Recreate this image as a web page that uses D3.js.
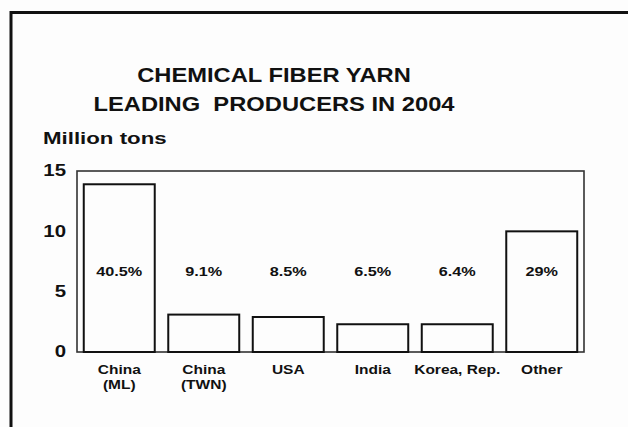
<!DOCTYPE html>
<html><head><meta charset="utf-8">
<script src="https://cdn.jsdelivr.net/npm/d3@7"></script>
<style>html,body{margin:0;padding:0;background:#fff;}svg{display:block;}</style>
</head><body>
<script>
const categories = [["China","(ML)"],["China","(TWN)"],["USA"],["India"],["Korea, Rep."],["Other"]];
const values = [13.9, 3.1, 2.9, 2.3, 2.3, 10.0];
const shares = ["40.5%","9.1%","8.5%","6.5%","6.4%","29%"];
const yTicks = [0, 5, 10, 15];
const titleLines = ["CHEMICAL FIBER YARN", "LEADING  PRODUCERS IN 2004"];
const yUnit = "Million tons";

const W = 628, H = 427;
const svg = d3.select("body").append("svg").attr("width", W).attr("height", H);
svg.append("rect").attr("width", W).attr("height", H).attr("fill", "#fdfdfd");

// frame
svg.append("path").attr("d", `M11,${H} L11,12.5 L${W},12.5`)
  .attr("fill", "none").attr("stroke", "#111").attr("stroke-width", 3);

const font = "Liberation Sans, Arial, Helvetica, sans-serif";
function txt(x, y, s, size, sx, anchor) {
  const g = svg.append("g").attr("transform", `translate(${x},${y}) scale(${sx},1)`);
  g.append("text").text(s).attr("font-family", font).attr("font-weight", "bold")
    .attr("font-size", size).attr("fill", "#111").attr("text-anchor", anchor || "middle")
    .attr("dominant-baseline", "middle").style("white-space", "pre");
}

txt(274, 76, titleLines[0], 21, 1.13);
txt(274, 105, titleLines[1], 21, 1.13);
txt(43, 140, yUnit, 17, 1.31, "start");

const x0 = 77, x1 = 584, yTop = 171, yBot = 352;
const x = d3.scaleBand().domain(d3.range(categories.length)).range([x0, x1])
  .paddingInner(0.16).paddingOuter(0.08);
const y = d3.scaleLinear().domain([0, 15]).range([yBot, yTop]);

// plot box
svg.append("rect").attr("x", x0).attr("y", yTop).attr("width", x1 - x0).attr("height", yBot - yTop)
  .attr("fill", "none").attr("stroke", "#333").attr("stroke-width", 1.6);

// y labels
yTicks.forEach(t => txt(66, y(t) + 1, String(t), 17, 1.2, "end"));

// bars
svg.selectAll("rect.bar").data(values).join("rect").attr("class", "bar")
  .attr("x", (d, i) => x(i)).attr("y", d => y(d))
  .attr("width", x.bandwidth()).attr("height", d => y(0) - y(d))
  .attr("fill", "none").attr("stroke", "#111").attr("stroke-width", 2);

// shares
shares.forEach((s, i) => txt(x(i) + x.bandwidth() / 2, 273, s, 12.5, 1.3));

// categories
categories.forEach((c, i) => {
  c.forEach((line, j) => txt(x(i) + x.bandwidth() / 2, 371 + j * 14.5, line, 12.5, 1.24));
});
</script>
</body></html>
